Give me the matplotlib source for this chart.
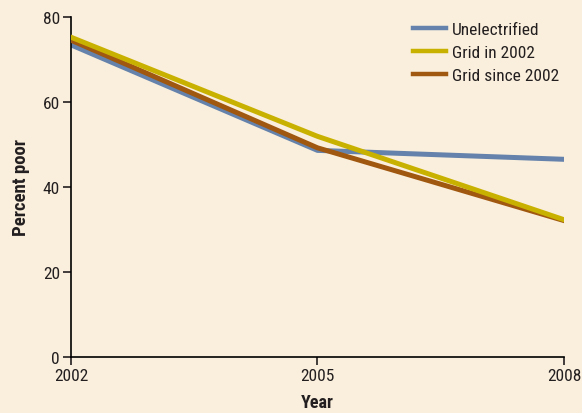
import matplotlib.pyplot as plt

years = [2002, 2005, 2008]
unelectrified = [73.4, 48.6, 46.5]
grid_2002 = [75.2, 51.9, 32.3]
grid_since = [74.5, 49.2, 32.1]
names = ['Unelectrified', 'Grid in 2002', 'Grid since 2002']
colors = ['#6482ab', '#c9b100', '#a0570f']

plt.rcParams['font.family'] = ['Roboto Condensed', 'DejaVu Sans']

bg = '#faefdc'
txt = '#231f20'
fig = plt.figure(figsize=(5.82, 4.14), dpi=100, facecolor=bg)
ax = fig.add_axes([0.122, 0.135, 0.847, 0.822])
ax.set_facecolor(bg)

# blue underneath, brown, then yellow on top
ax.plot(years, unelectrified, color=colors[0], lw=3.6, label=names[0], zorder=2)
ax.plot(years, grid_since, color=colors[2], lw=3.6, label=names[2], zorder=3)
ax.plot(years, grid_2002, color=colors[1], lw=3.6, label=names[1], zorder=4)

ax.set_xlim(2002, 2008)
ax.set_ylim(0, 80)
ax.set_xticks(years)
ax.set_yticks([0, 20, 40, 60, 80])
ax.spines['top'].set_visible(False)
ax.spines['right'].set_visible(False)
ax.spines['left'].set_linewidth(1.2)
ax.spines['bottom'].set_linewidth(1.2)
ax.tick_params(labelsize=12.5, length=6, width=1.2, colors=txt, pad=2)
ax.set_xlabel('Year', fontsize=13, fontweight='bold', labelpad=7, color=txt)
ax.set_ylabel('Percent poor', fontsize=13.5, fontweight='bold', labelpad=9, color=txt)

h, l = ax.get_legend_handles_labels()
order = [0, 2, 1]
leg = ax.legend([h[i] for i in order], [l[i] for i in order], loc='upper right',
                frameon=False, fontsize=12.5, handlelength=1.9, labelspacing=0.45,
                handletextpad=0.35, borderaxespad=0.0, bbox_to_anchor=(1.005, 1.005))
for line in leg.get_lines():
    line.set_linewidth(3.2)
for t in leg.get_texts():
    t.set_color(txt)

plt.savefig('out.png', dpi=100, facecolor=bg)
